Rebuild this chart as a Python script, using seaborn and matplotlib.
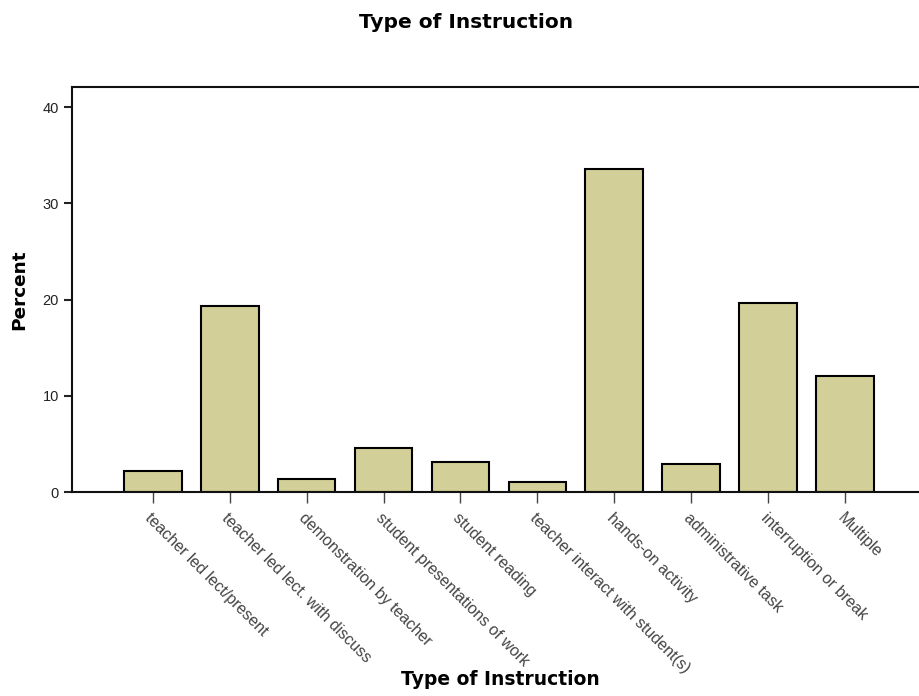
import numpy as np
import pandas as pd
import seaborn as sns
from matplotlib import pyplot as plt

# data
categories = ["teacher led lect/present", "teacher led lect. with discuss",
              "demonstration by teacher", "student presentations of work",
              "student reading", "teacher interact with student(s)",
              "hands-on activity", "administrative task",
              "interruption or break", "Multiple"]
percent = [2.15, 19.3, 1.35, 4.55, 3.15, 1.0, 33.6, 2.95, 19.6, 12.1]
y_ticks = [0, 10, 20, 30, 40]

sns.set_style("ticks")
plt.rcParams['font.family'] = ['DejaVu Sans']
plt.rcParams['text.color'] = 'black'
plt.rcParams['axes.labelcolor'] = 'black'

df = pd.DataFrame({"Type of Instruction": categories, "Percent": percent})

fig = plt.figure(figsize=(9.19, 6.96), dpi=100)
ax = fig.add_axes([0.0783, 0.293, 0.9217, 0.582])

sns.barplot(data=df, x="Type of Instruction", y="Percent", color="#d3cf98",
            saturation=1, edgecolor="black", linewidth=1.5, width=0.75, ax=ax)

ax.set_xlim(-1.05, 9.96)
ax.set_ylim(0, 42.1)
ax.set_yticks(y_ticks)
ax.tick_params(axis="y", direction="out", length=6, width=1.5, labelsize=10.5,
               colors="#222222")
ax.tick_params(axis="x", direction="out", length=8, width=1, color="#444444",
               pad=5)
ax.set_xticks(range(len(categories)))
ax.set_xticklabels(categories, rotation=-45, ha="left", va="top",
                   rotation_mode="anchor", fontsize=11.5, color="#444444",
                   family=["Liberation Sans"])
for lbl in ax.get_yticklabels():
    lbl.set_family(["Liberation Sans"])

for side in ["left", "top", "bottom"]:
    ax.spines[side].set_linewidth(1.5)
    ax.spines[side].set_color("#111111")
ax.spines["right"].set_visible(False)

ax.set_xlabel("")
ax.set_ylabel("Percent", fontsize=13.3, fontweight="bold", labelpad=10)

fig.text(0.507, 0.968, "Type of Instruction", ha="center", va="center",
         fontsize=14.5, fontweight="bold")
fig.text(0.545, 0.024, "Type of Instruction", ha="center", va="center",
         fontsize=13.5, fontweight="bold")

plt.savefig("out.png", dpi=100)
